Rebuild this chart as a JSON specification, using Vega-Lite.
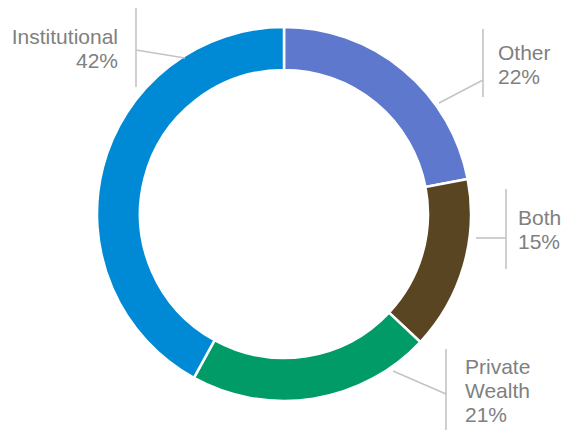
{
  "$schema": "https://vega.github.io/schema/vega-lite/v6.json",
  "width": 562,
  "height": 426,
  "autosize": {"type": "none"},
  "padding": {"left": 3, "top": 1, "right": 0, "bottom": 3},
  "background": "white",
  "config": {"view": {"stroke": null}},
  "datasets": {
    "shares": [
      {"category": "Other", "share": 22, "rank": 1},
      {"category": "Both", "share": 15, "rank": 2},
      {"category": "Private Wealth", "share": 21, "rank": 3},
      {"category": "Institutional", "share": 42, "rank": 4}
    ],
    "leaders": [
      {"category": "Institutional", "x": -148, "y": -206, "x2": -148, "y2": -127},
      {"category": "Institutional", "x": -148, "y": -164, "x2": -99, "y2": -156},
      {"category": "Other", "x": 199, "y": -185, "x2": 199, "y2": -117},
      {"category": "Other", "x": 155, "y": -111, "x2": 199, "y2": -134},
      {"category": "Both", "x": 222, "y": -25, "x2": 222, "y2": 55},
      {"category": "Both", "x": 192, "y": 24, "x2": 222, "y2": 24},
      {"category": "Private Wealth", "x": 162, "y": 135, "x2": 162, "y2": 220},
      {"category": "Private Wealth", "x": 109, "y": 157, "x2": 162, "y2": 180}
    ],
    "labels": [
      {"label": "Institutional\n42%", "x": -166, "y": -170, "side": "right"},
      {"label": "Other\n22%", "x": 214, "y": -154, "side": "left"},
      {"label": "Both\n15%", "x": 234, "y": 11, "side": "left"},
      {"label": "Private\nWealth\n21%", "x": 181, "y": 160, "side": "left"}
    ]
  },
  "layer": [
    {
      "data": {"name": "shares"},
      "mark": {"type": "arc", "outerRadius": 187, "innerRadius": 144, "stroke": "white", "strokeWidth": 2.5},
      "encoding": {
        "theta": {"field": "share", "type": "quantitative", "stack": true},
        "order": {"field": "rank", "type": "quantitative"},
        "color": {
          "field": "category",
          "type": "nominal",
          "scale": {
            "domain": ["Other", "Both", "Private Wealth", "Institutional"],
            "range": ["#5E78CE", "#5A4522", "#009B66", "#008AD6"]
          },
          "legend": null
        }
      }
    },
    {
      "data": {"name": "leaders"},
      "mark": {"type": "rule", "color": "#C4C4C4", "strokeWidth": 1.6},
      "encoding": {
        "x": {"field": "x", "type": "quantitative", "scale": {"domain": [-281, 281], "nice": false, "zero": false}, "axis": null},
        "y": {"field": "y", "type": "quantitative", "scale": {"domain": [-213, 213], "nice": false, "zero": false, "reverse": true}, "axis": null},
        "x2": {"field": "x2"},
        "y2": {"field": "y2"}
      }
    },
    {
      "data": {"name": "labels"},
      "transform": [{"filter": "datum.side === 'left'"}],
      "mark": {"type": "text", "align": "left", "baseline": "alphabetic", "font": "Liberation Sans", "fontSize": 21, "lineHeight": 24, "lineBreak": "\n", "color": "#808080"},
      "encoding": {
        "x": {"field": "x", "type": "quantitative"},
        "y": {"field": "y", "type": "quantitative"},
        "text": {"field": "label"}
      }
    },
    {
      "data": {"name": "labels"},
      "transform": [{"filter": "datum.side === 'right'"}],
      "mark": {"type": "text", "align": "right", "baseline": "alphabetic", "font": "Liberation Sans", "fontSize": 21, "lineHeight": 24, "lineBreak": "\n", "color": "#808080"},
      "encoding": {
        "x": {"field": "x", "type": "quantitative"},
        "y": {"field": "y", "type": "quantitative"},
        "text": {"field": "label"}
      }
    }
  ]
}
